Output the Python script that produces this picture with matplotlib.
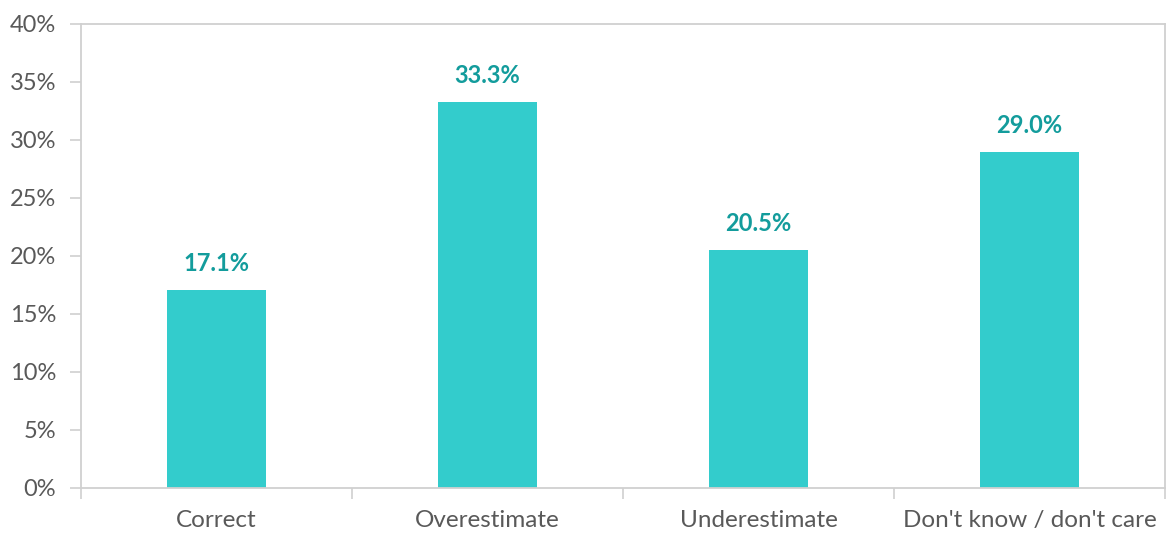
import matplotlib
matplotlib.use("Agg")
import matplotlib.pyplot as plt
from matplotlib.ticker import MultipleLocator, FuncFormatter, FixedLocator

categories = ["Correct", "Overestimate", "Underestimate", "Don't know / don't care"]
values = [17.1, 33.3, 20.5, 29.0]

plt.rcParams['font.family'] = ['Lato', 'DejaVu Sans']

fig = plt.figure(figsize=(11.7, 5.33), dpi=100)
ax = fig.add_axes([81/1170, 45/533, (1165-81)/1170, (488-24)/533])

x = list(range(len(categories)))
ax.bar(x, values, width=0.365, color="#33CCCC", zorder=2)
for xi, v in zip(x, values):
    ax.text(xi, v + 1.3, f"{v:.1f}%", ha="center", va="bottom",
            fontsize=17, fontweight="bold", color="#139C9C")

ax.set_xlim(-0.5, len(categories) - 0.5)
ax.set_ylim(0, 40)
ax.yaxis.set_major_locator(MultipleLocator(5))
ax.yaxis.set_major_formatter(FuncFormatter(lambda v, p: f"{v:.0f}%"))
ax.set_xticks(x)
ax.set_xticklabels(categories)
ax.xaxis.set_minor_locator(FixedLocator([i - 0.5 for i in range(len(categories) + 1)]))

for s in ax.spines.values():
    s.set_color("#D0D0D0")
    s.set_linewidth(1.3)

ax.tick_params(axis="y", which="major", length=8, width=1.2, color="#D0D0D0",
               labelsize=17, labelcolor="#595959", pad=10)
ax.tick_params(axis="x", which="major", length=0, labelsize=17.5, labelcolor="#595959", pad=16)
ax.tick_params(axis="x", which="minor", length=8, width=1.2, color="#D0D0D0")

fig.savefig("out.png", dpi=100)
